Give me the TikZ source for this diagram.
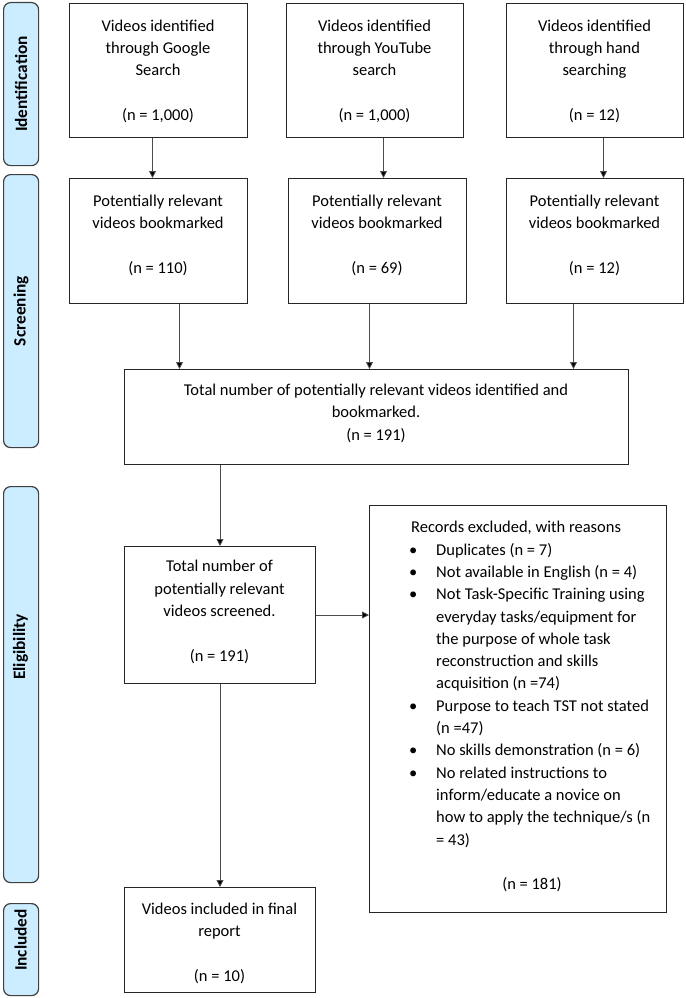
\documentclass[tikz,border=0pt]{standalone}
\usepackage{fontspec}
\setmainfont{Carlito}
\usetikzlibrary{arrows.meta}
\definecolor{barblue}{RGB}{204,236,255}
\begin{document}
\begin{tikzpicture}[x=1pt,y=-1pt,
  box/.style={draw=black!85, line width=1pt, inner sep=0pt, anchor=north west},
  phase/.style={draw=black!75, fill=barblue, line width=1.2pt, rounded corners=7pt, inner sep=0pt, anchor=north west, minimum width=35pt},
  plabel/.style={font=\fontsize{17.3}{20}\selectfont\bfseries, rotate=90, inner sep=0pt},
  txt/.style={font=\fontsize{16.5}{22.3}\selectfont, align=center, anchor=base, inner sep=0pt},
  ltxt/.style={font=\fontsize{16.5}{22.3}\selectfont, align=left, anchor=base west, inner sep=0pt},
  arr/.style={draw=black!70, line width=0.8pt, -{Triangle[length=7pt,width=7pt,fill=black]}}
]
\useasboundingbox (0,0) rectangle (685,998);

% phase bars
\node[phase, minimum height=163pt] (p1) at (3,2) {};
\node[phase, minimum height=273pt] (p2) at (3,174) {};
\node[phase, minimum height=396pt] (p3) at (3,486) {};
\node[phase, minimum height=92pt]  (p4) at (3,903) {};
\node[plabel] (p1l) at (p1.center) {Identification};
\node[plabel] (p2l) at (p2.center) {Screening};
\node[plabel] (p3l) at (20.5,647) {Eligibility};
\node[plabel] (p4l) at (20.5,940) {Included};

% boxes
\node[box, minimum width=178pt, minimum height=134pt] (t1) at (69,3) {};
\node[box, minimum width=177pt, minimum height=134pt] (t2) at (286,3) {};
\node[box, minimum width=177pt, minimum height=134pt] (t3) at (506,3) {};
\node[box, minimum width=178pt, minimum height=125pt] (s1) at (69,178) {};
\node[box, minimum width=178pt, minimum height=125pt] (s2) at (288,178) {};
\node[box, minimum width=177pt, minimum height=125pt] (s3) at (506,178) {};
\node[box, minimum width=504pt, minimum height=95pt] (tot) at (124,369) {};
\node[box, minimum width=191pt, minimum height=137pt] (scr) at (124,546) {};
\node[box, minimum width=297pt, minimum height=407pt] (exc) at (369,505) {};
\node[box, minimum width=191pt, minimum height=105pt] (inc) at (124,887) {};

% texts (anchor = baseline of last line)
\node[txt] (t1x) at (158,120.5) {Videos identified\\through Google\\Search\\[22.3pt](n = 1,000)};
\node[txt] (t2x) at (374.5,120.5) {Videos identified\\through YouTube\\search\\[22.3pt](n = 1,000)};
\node[txt] (t3x) at (594.5,120.5) {Videos identified\\through hand\\searching\\[22.3pt](n = 12)};
\node[txt] (s1x) at (158,273) {Potentially relevant\\videos bookmarked\\[22.3pt](n = 110)};
\node[txt] (s2x) at (377,273) {Potentially relevant\\videos bookmarked\\[22.3pt](n = 69)};
\node[txt] (s3x) at (594.5,273) {Potentially relevant\\videos bookmarked\\[22.3pt](n = 12)};
\node[txt] (totx) at (376,440) {Total number of potentially relevant videos identified and\\bookmarked.\\(n = 191)};
\node[txt] (scrx) at (219.5,661) {Total number of\\potentially relevant\\videos screened.\\[22.3pt](n = 191)};
\node[txt] (incx) at (219.5,981) {Videos included in final\\report\\[22.3pt](n = 10)};
\node[ltxt] (excx) at (411,845) {Records excluded, with reasons\\
\makebox[25pt][l]{\hspace{-2pt}\textbullet}Duplicates (n = 7)\\
\makebox[25pt][l]{\hspace{-2pt}\textbullet}Not available in English (n = 4)\\
\makebox[25pt][l]{\hspace{-2pt}\textbullet}Not Task-Specific Training using\\
\hspace*{25pt}everyday tasks/equipment for\\
\hspace*{25pt}the purpose of whole task\\
\hspace*{25pt}reconstruction and skills\\
\hspace*{25pt}acquisition (n =74)\\
\makebox[25pt][l]{\hspace{-2pt}\textbullet}Purpose to teach TST not stated\\
\hspace*{25pt}(n =47)\\
\makebox[25pt][l]{\hspace{-2pt}\textbullet}No skills demonstration (n = 6)\\
\makebox[25pt][l]{\hspace{-2pt}\textbullet}No related instructions to\\
\hspace*{25pt}inform/educate a novice on\\
\hspace*{25pt}how to apply the technique/s (n\\
\hspace*{25pt}= 43)};
\node[txt] (excn) at (532,889) {(n = 181)};

% arrows
\draw[arr] ([xshift=-6pt]t1.south) -- ([xshift=-6pt]t1.south |- s1.north);
\draw[arr] ([xshift=8.5pt]t2.south) -- ([xshift=8.5pt]t2.south |- s2.north);
\draw[arr] ([xshift=8.5pt]t3.south) -- ([xshift=8.5pt]t3.south |- s3.north);
\draw[arr] ([xshift=21pt]s1.south) -- ([xshift=21pt]s1.south |- tot.north);
\draw[arr] ([xshift=-8pt]s2.south) -- ([xshift=-8pt]s2.south |- tot.north);
\draw[arr] ([xshift=-21.5pt]s3.south) -- ([xshift=-21.5pt]s3.south |- tot.north);
\draw[arr] (tot.south -| scr.north) -- (scr.north);
\draw[arr] (scr.east) -- (scr.east -| exc.west);
\draw[arr] (scr.south) -- (inc.north);
\end{tikzpicture}
\end{document}
